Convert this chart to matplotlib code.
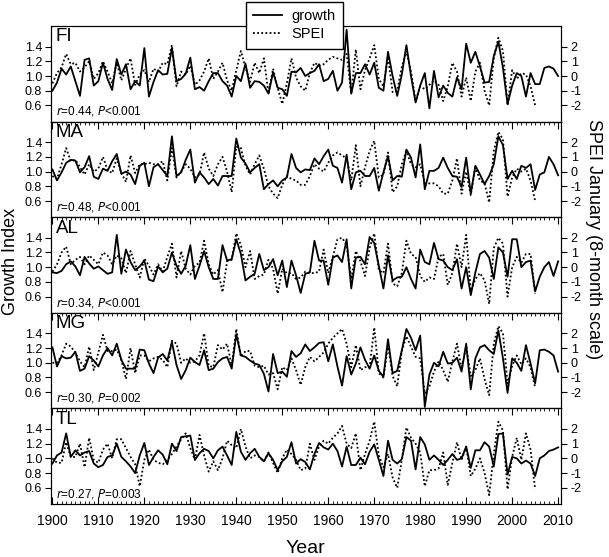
import numpy as np
import matplotlib
matplotlib.use("Agg")
import matplotlib.pyplot as plt
from matplotlib.ticker import MultipleLocator, FormatStrFormatter
from matplotlib.lines import Line2D

plt.rcParams['font.family'] = ['Liberation Sans', 'DejaVu Sans']
plt.rcParams['axes.unicode_minus'] = False

# years
growth_start, growth_end = 1900, 2010
spei_start, spei_end = 1900, 2005

# ---- growth index (solid) ----
fi_growth = [0.80, 0.91, 1.10, 1.02, 1.13, 0.93, 0.73, 1.22, 1.24, 0.87,
             0.93, 1.18, 0.96, 0.81, 1.23, 1.02, 1.16, 0.82, 0.93, 0.87,
             1.38, 0.72, 0.92, 1.08, 1.02, 1.03, 1.38, 0.93, 0.96, 1.03,
             1.25, 0.82, 0.85, 0.80, 0.93, 1.04, 1.04, 0.93, 0.87, 0.72,
             1.00, 0.93, 1.17, 0.84, 0.93, 0.92, 0.87, 0.76, 1.05, 0.84,
             0.82, 0.73, 1.06, 1.05, 1.11, 1.00, 1.04, 1.07, 1.16, 0.93,
             0.96, 1.07, 0.80, 0.91, 1.63, 0.76, 1.04, 1.04, 1.16, 1.02,
             1.18, 0.84, 0.80, 1.33, 1.00, 0.73, 1.02, 1.42, 1.00, 0.64,
             0.87, 1.04, 0.56, 1.07, 0.71, 0.87, 0.77, 0.72, 0.98, 0.82,
             1.44, 1.18, 1.33, 1.13, 0.91, 0.92, 1.27, 1.47, 1.11, 0.62,
             0.87, 1.04, 1.00, 0.72, 1.04, 0.89, 0.89, 1.11, 1.13, 1.10, 1.00]
ma_growth = [1.03, 0.88, 0.99, 1.12, 1.16, 1.15, 0.99, 1.06, 1.21, 0.93,
             0.90, 1.04, 1.01, 1.14, 1.24, 0.97, 1.00, 0.96, 0.83, 1.08,
             1.12, 0.80, 1.06, 1.10, 1.02, 0.94, 1.48, 0.94, 0.99, 1.16,
             1.30, 0.85, 0.99, 0.92, 0.83, 0.90, 0.81, 0.94, 0.94, 0.94,
             1.45, 1.19, 1.11, 0.99, 1.05, 1.10, 0.76, 0.83, 0.88, 0.80,
             0.88, 0.92, 1.24, 1.05, 0.99, 1.03, 1.02, 1.18, 1.10, 1.21,
             1.30, 1.08, 1.05, 0.85, 1.23, 0.76, 0.99, 1.01, 0.94, 0.94,
             1.05, 0.74, 0.99, 1.21, 0.88, 0.94, 0.93, 1.30, 1.19, 0.92,
             1.37, 0.76, 1.01, 1.01, 1.05, 1.19, 1.05, 0.94, 0.93, 0.79,
             1.19, 0.70, 1.08, 0.96, 0.83, 0.94, 1.10, 1.48, 1.36, 0.90,
             1.01, 0.90, 1.08, 1.05, 1.10, 0.75, 0.96, 0.99, 1.20, 1.10, 0.95]
al_growth = [0.93, 0.92, 0.95, 1.04, 1.08, 1.01, 0.89, 1.14, 1.05, 0.98,
             1.01, 0.96, 0.91, 0.93, 1.44, 0.91, 1.24, 1.07, 0.96, 1.01,
             1.09, 0.83, 0.81, 1.01, 0.93, 0.98, 1.20, 1.02, 0.91, 1.02,
             1.30, 0.84, 1.02, 1.22, 1.00, 0.84, 0.84, 1.30, 1.09, 1.11,
             1.38, 1.18, 0.82, 0.87, 0.91, 1.18, 0.96, 1.00, 1.11, 0.89,
             1.09, 0.73, 1.09, 0.89, 0.65, 0.91, 0.93, 1.36, 1.09, 1.09,
             0.76, 1.13, 1.16, 1.07, 1.38, 0.71, 1.13, 1.14, 1.04, 1.41,
             1.33, 1.02, 0.71, 1.16, 0.82, 0.86, 0.87, 1.00, 0.84, 0.71,
             1.24, 1.07, 1.04, 1.33, 1.11, 1.09, 1.00, 0.96, 1.11, 0.71,
             1.00, 0.62, 0.93, 1.18, 1.22, 1.13, 0.84, 1.27, 1.20, 0.87,
             1.38, 1.38, 1.00, 1.07, 1.09, 0.67, 0.87, 1.00, 1.07, 0.88, 1.08]
mg_growth = [1.21, 0.95, 1.09, 1.06, 1.07, 1.15, 0.89, 0.92, 1.09, 1.03,
             0.95, 1.10, 1.20, 1.10, 1.26, 1.04, 0.92, 0.92, 0.92, 1.18,
             1.17, 0.99, 0.86, 1.07, 1.12, 1.03, 1.28, 0.97, 0.78, 0.90,
             1.07, 1.01, 0.97, 1.17, 0.90, 0.92, 1.01, 1.06, 1.08, 0.92,
             1.39, 1.10, 1.08, 1.03, 0.99, 0.97, 0.85, 0.61, 1.12, 0.86,
             0.88, 0.81, 1.16, 1.08, 1.13, 1.25, 1.16, 1.21, 1.27, 1.28,
             1.02, 1.25, 0.95, 0.69, 1.09, 0.84, 0.99, 1.21, 1.04, 0.92,
             1.10, 0.89, 0.81, 1.32, 0.86, 0.89, 1.17, 1.46, 1.34, 1.17,
             1.37, 0.40, 0.84, 1.00, 0.95, 1.15, 0.99, 1.00, 1.07, 0.88,
             1.26, 0.64, 1.06, 1.21, 1.24, 1.17, 1.12, 1.44, 1.06, 0.59,
             1.06, 1.00, 0.89, 1.24, 0.99, 0.72, 1.17, 1.18, 1.15, 1.10, 0.88]
tl_growth = [0.93, 1.04, 1.08, 1.34, 1.02, 1.11, 1.04, 1.08, 1.10, 0.93,
             0.88, 0.91, 1.02, 1.04, 1.20, 1.02, 0.96, 0.89, 0.80, 1.04,
             1.21, 0.91, 1.02, 1.11, 1.05, 0.92, 1.20, 1.10, 1.29, 1.30,
             1.31, 0.98, 1.07, 1.13, 1.10, 1.00, 1.11, 1.16, 1.04, 0.91,
             1.36, 1.09, 0.98, 1.07, 1.13, 1.02, 0.96, 1.07, 0.98, 0.84,
             0.96, 1.02, 1.22, 0.93, 0.99, 0.95, 0.85, 1.06, 1.21, 1.15,
             1.12, 1.20, 1.10, 0.89, 1.16, 0.91, 0.91, 1.01, 0.92, 1.09,
             1.19, 0.98, 0.76, 1.24, 0.98, 0.93, 0.99, 1.29, 1.24, 0.85,
             1.29, 1.19, 0.98, 1.04, 0.98, 0.91, 0.98, 1.06, 0.98, 1.00,
             1.16, 0.87, 1.11, 1.11, 1.22, 1.16, 0.89, 1.33, 1.34, 0.78,
             1.02, 1.00, 0.93, 0.97, 0.93, 0.76, 1.00, 1.04, 1.10, 1.12, 1.15]

# ---- SPEI January, 8-month scale (dotted) ----
fi_spei = [-0.5, 0.2, 0.6, 1.5, 0.8, 0.9, 0.3, 0.6, 1.0, -0.2,
           0.2, 1.0, 0.3, -0.5, 0.9, -0.3, 0.5, 1.2, -0.6, 0.1,
           0.4, -0.4, 0.5, 0.3, 0.9, 0.8, 2.1, -0.7, 0.3, 0.1,
           0.7, -0.6, -0.3, 0.3, 1.2, -0.2, 0.3, 0.9, -0.3, -1.0,
           0.4, 1.7, 0.6, -0.4, 0.9, 0.2, 1.2, -1.2, 0.5, -0.8,
           -1.9, -0.5, 1.2, -0.1, -0.7, -1.0, 0.2, 0.9, 0.7, 0.8,
           1.1, 1.3, 1.2, 1.1, 1.5, -1.2, 1.8, -0.9, 0.4, 1.2,
           2.1, -0.2, -0.7, 1.3, -1.1, -1.0, 0.6, 1.7, 0.3, -1.7,
           -0.7, -0.9, -0.6, -0.3, -0.6, -1.7, -0.7, 0.9, 0.3, -1.4,
           -0.1, -1.7, 0.3, 0.9, -1.0, -2.0, 1.2, 2.6, 1.7, -2.0,
           0.4, -0.2, 0.2, 0.1, -0.7, -2.0]
ma_spei = [-0.3, -0.5, 0.5, 1.6, 0.7, 0.8, 0.3, -0.2, 0.5, 0.0,
           0.2, 1.0, 0.1, -0.1, 0.9, -0.1, -0.7, 1.1, -0.1, 0.5,
           0.5, 0.6, 0.5, 0.5, 0.7, -0.6, 1.6, -0.4, 0.0, 0.5,
           0.2, -0.4, -0.2, 1.3, 0.2, -0.3, 0.5, 1.0, 0.0, -1.4,
           1.7, 1.6, 0.4, -0.2, 0.5, 1.1, 0.2, -1.0, -1.5, -1.8,
           -0.9, -0.3, -0.5, -0.6, -0.9, -0.9, -0.3, 0.5, 0.2, 0.0,
           0.6, 1.1, 1.3, 1.1, 0.9, -0.6, 1.8, -1.0, 0.3, 1.4,
           2.1, -0.4, -0.2, 1.3, -1.4, -1.0, 0.5, 1.4, 0.5, 0.3,
           0.5, -0.8, -0.8, -0.8, -1.0, -1.5, -1.5, -0.6, 0.9, -1.5,
           0.0, -1.6, 0.3, -0.6, -0.8, -2.1, 1.4, 2.7, 2.2, -1.7,
           -0.4, 0.2, 0.0, 0.2, -0.6, -2.0]
al_spei = [-0.3, 0.2, 1.0, 1.4, 0.2, 0.5, 0.7, 0.2, 0.8, 0.5,
           0.2, 1.0, 0.8, 0.2, 0.8, 0.6, -0.4, 1.1, 0.2, -0.7,
           0.6, 0.1, -0.5, 0.2, -0.3, 0.7, 1.6, -0.7, 1.1, -0.1,
           -0.5, 0.1, 0.3, 1.8, 0.2, -0.5, -0.2, -1.7, 0.4, 0.5,
           2.3, 1.5, 0.0, 1.1, -0.8, -0.6, -0.5, 0.5, -0.1, -1.8,
           -0.1, -0.4, -0.4, -0.8, -0.7, -0.3, -0.4, -0.4, -0.3, 1.2,
           -0.4, 0.7, 1.9, 2.0, 1.5, -0.8, 1.1, 0.4, -0.6, 1.3,
           2.3, -0.2, -0.4, 1.6, -1.1, -1.3, -0.4, 1.8, 0.9, 0.7,
           -0.6, -1.0, -0.7, -0.8, 0.7, 0.9, -1.2, -0.4, 1.6, 0.0,
           2.2, -1.6, -0.8, -0.4, -0.9, -2.5, 1.3, 2.0, 1.6, -2.0,
           0.0, 0.7, 0.3, 0.9, 0.9, -1.8]
mg_spei = [0.0, 0.0, 0.5, 1.3, 1.1, 0.7, 0.1, -0.3, 1.1, -0.5,
           0.7, 1.9, 0.8, 0.8, 0.9, 0.2, -1.1, 1.0, -0.7, 0.5,
           0.5, 0.1, 0.3, 0.4, 0.2, -0.3, 1.5, 1.3, 0.0, 0.3,
           0.0, 0.1, 0.5, 2.0, -0.2, -0.3, 1.2, 0.9, 1.3, -0.2,
           2.3, 0.4, 0.8, 0.8, -0.2, -0.3, -0.2, -0.8, -0.7, -1.8,
           -0.3, -0.5, 0.3, -0.5, -1.5, -0.3, 0.4, 0.1, 0.4, 0.7,
           1.3, 1.7, 2.0, 2.3, 1.3, -0.3, 1.2, -0.5, -0.3, -0.3,
           2.4, -0.7, -1.0, 1.2, -0.9, -1.6, 0.8, 1.8, 1.1, 0.4,
           0.3, -2.1, -1.6, -0.6, 0.1, -0.5, -1.3, 0.1, 1.3, -0.4,
           1.1, -0.9, -0.5, 0.3, -1.1, -2.2, 1.3, 2.5, 2.0, -1.4,
           -0.2, 0.5, -0.1, 0.3, -0.3, -1.7]
tl_spei = [0.0, -0.3, -0.3, 1.1, 0.1, 0.1, 1.0, -0.6, 1.4, -0.1,
           -0.3, 0.6, 1.0, 0.0, 1.3, 1.3, 0.7, 0.1, -0.4, -1.9,
           -0.1, 0.6, -0.1, -0.3, -0.4, -0.1, 0.3, 0.8, 1.3, 1.7,
           0.7, -0.1, 1.6, 0.2, -0.9, -0.2, -0.8, 0.0, 1.2, 0.9,
           0.7, 2.0, 0.8, 0.0, 0.2, 0.1, -0.2, 0.4, -0.3, -1.0,
           0.0, 0.6, 0.3, -0.1, -0.8, -0.7, 1.0, -0.1, 0.8, 1.2,
           1.0, 1.4, 1.7, 2.2, 1.0, 0.7, 1.7, -0.8, 0.3, 1.2,
           2.5, 0.2, -0.6, 0.3, -1.3, -2.0, -0.1, 2.1, 1.4, 1.0,
           0.4, -1.9, -0.8, -0.8, -0.7, 0.4, -1.8, -0.3, 1.1, -0.1,
           0.8, -1.2, -0.7, 0.0, -1.0, -2.5, 0.3, 2.5, 1.9, -2.1,
           0.1, 1.4, -0.1, 1.7, 0.6, -2.1]

site_names = ['FI', 'MA', 'AL', 'MG', 'TL']
r_values = ['0.44', '0.48', '0.34', '0.30', '0.27']
p_texts = ['<0.001', '<0.001', '<0.001', '=0.002', '=0.003']
growth_list = [fi_growth, ma_growth, al_growth, mg_growth, tl_growth]
spei_list = [fi_spei, ma_spei, al_spei, mg_spei, tl_spei]

years_g = np.arange(growth_start, growth_end + 1)
years_s = np.arange(spei_start, spei_end + 1)

# 左轴范围，右轴按 1 SPEI = 0.2 growth 对齐
g_lim = (0.38, 1.68)
s_lim = ((g_lim[0] - 1) / 0.2, (g_lim[1] - 1) / 0.2)
dots = (0, (1, 1.3))

fig, axes = plt.subplots(5, 1, sharex=True, figsize=(6.09, 5.57), dpi=100)
fig.subplots_adjust(left=0.083, right=0.921, top=0.9533, bottom=0.0952, hspace=0)

for i, ax in enumerate(axes):
    ax2 = ax.twinx()
    ax.plot(years_g, growth_list[i], color='black', linewidth=1.3, zorder=3)
    ax2.plot(years_s, spei_list[i], color='black', linewidth=1.3,
             linestyle=dots, zorder=2)

    ax.set_xlim(1899.6, 2010.6)
    ax.set_ylim(*g_lim)
    ax2.set_ylim(*s_lim)

    # 左右刻度
    ax.set_yticks([0.6, 0.8, 1.0, 1.2, 1.4])
    ax.yaxis.set_major_formatter(FormatStrFormatter('%.1f'))
    ax2.set_yticks([-2, -1, 0, 1, 2])
    ax.tick_params(axis='y', direction='out', length=4, width=0.8, labelsize=9, pad=2)
    ax2.tick_params(axis='y', direction='out', length=4, width=0.8, labelsize=9, pad=3)

    # x 刻度：每年副刻度，每十年主刻度
    ax.xaxis.set_major_locator(MultipleLocator(10))
    ax.xaxis.set_minor_locator(MultipleLocator(1))
    last = (i == len(axes) - 1)
    ax.tick_params(axis='x', which='major', direction='in', length=5, width=0.8,
                   top=(i > 0), bottom=last, labelbottom=last, labelsize=10, pad=7)
    ax.tick_params(axis='x', which='minor', direction='in', length=2.5, width=0.6,
                   top=(i > 0), bottom=last)

    for a in (ax, ax2):
        for sp in a.spines.values():
            sp.set_linewidth(0.8)

    ax.text(0.01, 0.975, site_names[i], transform=ax.transAxes, fontsize=13.5,
            va='top', ha='left')
    ax.text(0.01, 0.07, r'$\it{r}$=' + r_values[i] + r', $\it{P}$' + p_texts[i],
            transform=ax.transAxes, fontsize=8.5, va='baseline', ha='left')

# 轴标题
fig.text(0.502, 0.016, 'Year', va='center', ha='center', fontsize=14)
fig.text(0.017, 0.53, 'Growth Index', rotation=90, va='center', ha='center', fontsize=13)
fig.text(0.975, 0.57, 'SPEI January (8-month scale)', rotation=270,
         va='center', ha='center', fontsize=13)

# 图例
handles = [Line2D([], [], color='black', linewidth=1.3, label='growth'),
           Line2D([], [], color='black', linewidth=1.3, linestyle=dots, label='SPEI')]
fig.legend(handles=handles, loc='upper left', bbox_to_anchor=(0.404, 0.997),
           borderaxespad=0, fancybox=False, edgecolor='black', framealpha=1,
           fontsize=10.5, handlelength=2.0, handletextpad=0.6, borderpad=0.5,
           labelspacing=0.3)

fig.savefig('out.png', dpi=100)
